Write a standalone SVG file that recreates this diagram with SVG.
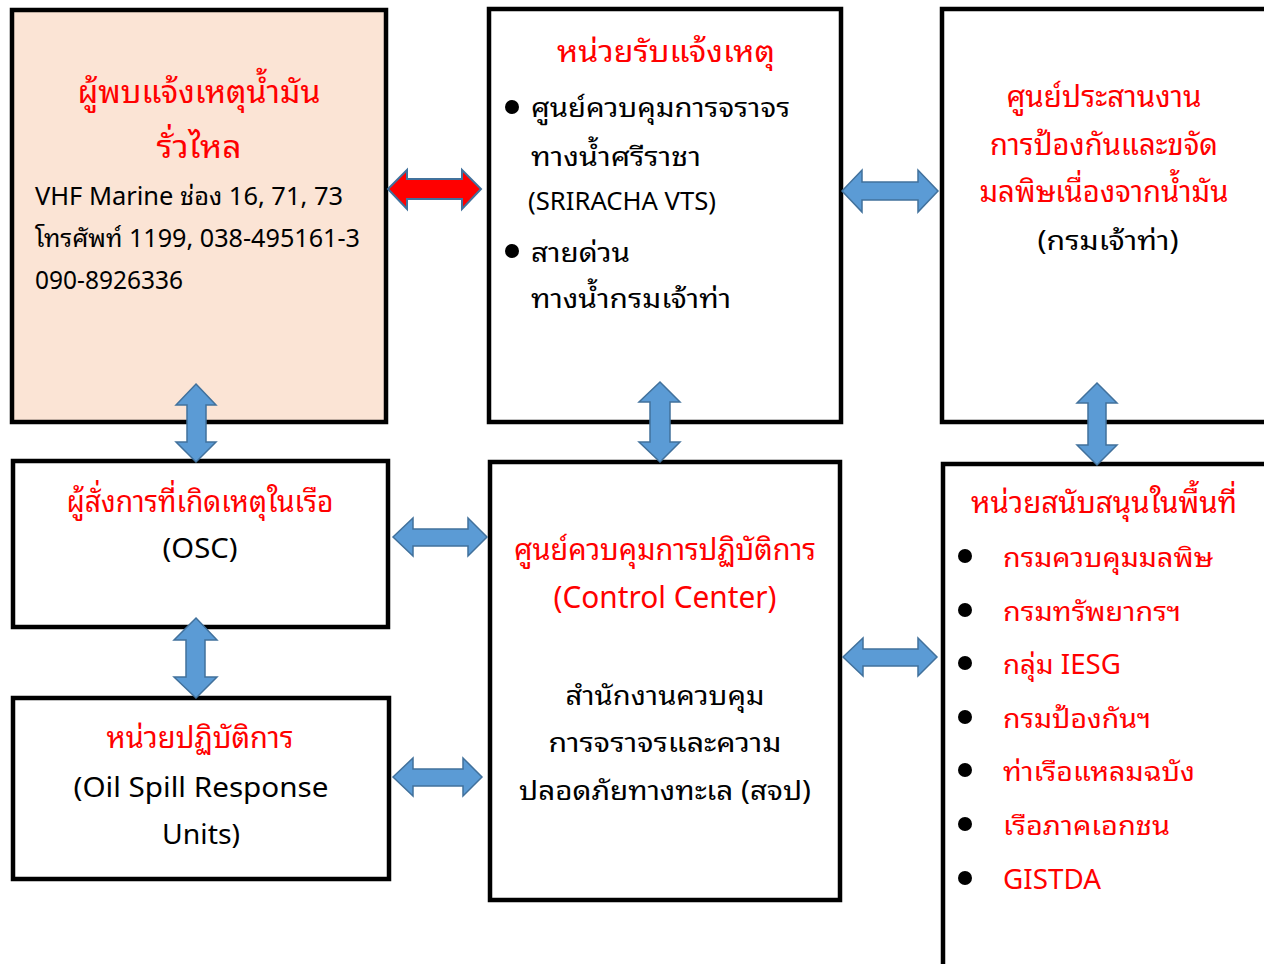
<svg xmlns="http://www.w3.org/2000/svg" width="1264" height="964" viewBox="0 0 1264 964">
<style>
.box{fill:#fff;stroke:#000;stroke-width:4.5}
.t{font-family:"Leelawadee UI","Tahoma","Noto Sans Thai Looped","Loma","Garuda","Waree","Noto Sans Thai","Noto Sans","DejaVu Sans",sans-serif;font-size:27px;fill:#000}
.h{font-size:30px}
.r{fill:#ff0000}
.c{text-anchor:middle}
.ba{fill:#5b9bd5;stroke:#41719c;stroke-width:1.5}
.ra{fill:#ff0000;stroke:#41719c;stroke-width:2}
</style>
<rect width="1264" height="964" fill="#fff"/>
<g id="n-reporter">
<rect class="box" x="12" y="10" width="374" height="412" style="fill:#fbe4d5"/>
<text class="t r c" x="199" y="103" style="font-size:32px" textLength="243" lengthAdjust="spacingAndGlyphs">ผู้พบแจ้งเหตุน้ำมัน</text>
<text class="t r c" x="199" y="158" style="font-size:32px" textLength="85" lengthAdjust="spacingAndGlyphs">รั่วไหล</text>
<text class="t" x="35" y="205" style="font-size:25px" textLength="308" lengthAdjust="spacingAndGlyphs">VHF Marine ช่อง 16, 71, 73</text>
<text class="t" x="35" y="247" style="font-size:25px" textLength="325" lengthAdjust="spacingAndGlyphs">โทรศัพท์ 1199, 038-495161-3</text>
<text class="t" x="35" y="289" style="font-size:25px" textLength="148" lengthAdjust="spacingAndGlyphs">090-8926336</text>
</g>
<g id="n-receiver">
<rect class="box" x="489" y="9" width="352" height="413"/>
<text class="t h r c" x="666" y="62" textLength="218" lengthAdjust="spacingAndGlyphs">หน่วยรับแจ้งเหตุ</text>
<circle cx="512" cy="107" r="7"/>
<text class="t" x="531" y="117" textLength="259" lengthAdjust="spacingAndGlyphs">ศูนย์ควบคุมการจราจร</text>
<text class="t" x="531" y="166" textLength="170" lengthAdjust="spacingAndGlyphs">ทางน้ำศรีราชา</text>
<text class="t" x="528" y="210" style="font-size:25px" textLength="188" lengthAdjust="spacingAndGlyphs">(SRIRACHA VTS)</text>
<circle cx="512" cy="251" r="7"/>
<text class="t" x="531" y="262" textLength="99" lengthAdjust="spacingAndGlyphs">สายด่วน</text>
<text class="t" x="531" y="308" textLength="200" lengthAdjust="spacingAndGlyphs">ทางน้ำกรมเจ้าท่า</text>
</g>
<g id="n-coord">
<rect class="box" x="942" y="9" width="330" height="413"/>
<text class="t h r c" x="1104" y="107" textLength="195" lengthAdjust="spacingAndGlyphs">ศูนย์ประสานงาน</text>
<text class="t h r c" x="1104" y="155" textLength="228" lengthAdjust="spacingAndGlyphs">การป้องกันและขจัด</text>
<text class="t h r c" x="1104" y="202" textLength="249" lengthAdjust="spacingAndGlyphs">มลพิษเนื่องจากน้ำมัน</text>
<text class="t c" x="1108" y="250" textLength="141" lengthAdjust="spacingAndGlyphs">(กรมเจ้าท่า)</text>
</g>
<g id="n-osc">
<rect class="box" x="13" y="461" width="375" height="166"/>
<text class="t h r c" x="200" y="512" textLength="267" lengthAdjust="spacingAndGlyphs">ผู้สั่งการที่เกิดเหตุในเรือ</text>
<text class="t c" x="200" y="558" textLength="75" lengthAdjust="spacingAndGlyphs">(OSC)</text>
</g>
<g id="n-units">
<rect class="box" x="13" y="698" width="376" height="181"/>
<text class="t h r c" x="200" y="748" textLength="187" lengthAdjust="spacingAndGlyphs">หน่วยปฏิบัติการ</text>
<text class="t c" x="201" y="797" textLength="255" lengthAdjust="spacingAndGlyphs">(Oil Spill Response</text>
<text class="t c" x="201" y="844" textLength="78" lengthAdjust="spacingAndGlyphs">Units)</text>
</g>
<g id="n-control">
<rect class="box" x="490" y="462" width="350" height="438"/>
<text class="t h r c" x="665" y="560" textLength="302" lengthAdjust="spacingAndGlyphs">ศูนย์ควบคุมการปฏิบัติการ</text>
<text class="t h r c" x="665" y="608" textLength="223" lengthAdjust="spacingAndGlyphs">(Control Center)</text>
<text class="t c" x="665" y="705" textLength="199" lengthAdjust="spacingAndGlyphs">สำนักงานควบคุม</text>
<text class="t c" x="665" y="752" textLength="233" lengthAdjust="spacingAndGlyphs">การจราจรและความ</text>
<text class="t c" x="665" y="800" textLength="292" lengthAdjust="spacingAndGlyphs">ปลอดภัยทางทะเล (สจป)</text>
</g>
<g id="n-support">
<rect class="box" x="943" y="464" width="330" height="520"/>
<text class="t h r c" x="1104" y="513" textLength="266" lengthAdjust="spacingAndGlyphs">หน่วยสนับสนุนในพื้นที่</text>
<circle cx="965" cy="556" r="7"/><text class="t r" x="1003" y="567" textLength="210" lengthAdjust="spacingAndGlyphs">กรมควบคุมมลพิษ</text>
<circle cx="965" cy="610" r="7"/><text class="t r" x="1003" y="621" textLength="178" lengthAdjust="spacingAndGlyphs">กรมทรัพยากรฯ</text>
<circle cx="965" cy="663" r="7"/><text class="t r" x="1003" y="674" textLength="118" lengthAdjust="spacingAndGlyphs">กลุ่ม IESG</text>
<circle cx="965" cy="717" r="7"/><text class="t r" x="1003" y="728" textLength="148" lengthAdjust="spacingAndGlyphs">กรมป้องกันฯ</text>
<circle cx="965" cy="770" r="7"/><text class="t r" x="1003" y="781" textLength="192" lengthAdjust="spacingAndGlyphs">ท่าเรือแหลมฉบัง</text>
<circle cx="965" cy="824" r="7"/><text class="t r" x="1003" y="835" textLength="167" lengthAdjust="spacingAndGlyphs">เรือภาคเอกชน</text>
<circle cx="965" cy="878" r="7"/><text class="t r" x="1003" y="889" textLength="98" lengthAdjust="spacingAndGlyphs">GISTDA</text>
</g>
<g id="connectors">
<polygon class="ra" points="388,189 407,170 407,179 462,179 462,170 481,189 462,209 462,199 407,199 407,209"/>
<polygon class="ba" points="842,191 862,170 862,182 918,182 918,170 938,191 918,212 918,200 862,200 862,212"/>
<polygon class="ba" points="393,537 413,518 413,529 468,529 468,518 487,537 468,556 468,546 413,546 413,556"/>
<polygon class="ba" points="393,777 413,758 413,769 463,769 463,758 482,777 463,796 463,786 413,786 413,796"/>
<polygon class="ba" points="843,657 863,638 863,649 918,649 918,638 937,657 918,676 918,666 863,666 863,676"/>
<polygon class="ba" points="196,384 216,405 206,405 206,442 216,442 196,462 176,442 187,442 187,405 176,405"/>
<polygon class="ba" points="196,618 217,640 205,640 205,677 217,677 196,698 174,677 186,677 186,640 174,640"/>
<polygon class="ba" points="660,382 680,402 670,402 670,442 680,442 660,462 639,442 650,442 650,402 639,402"/>
<polygon class="ba" points="1097,383 1117,403 1106,403 1106,445 1117,445 1097,465 1077,445 1088,445 1088,403 1077,403"/>
</g>
</svg>
